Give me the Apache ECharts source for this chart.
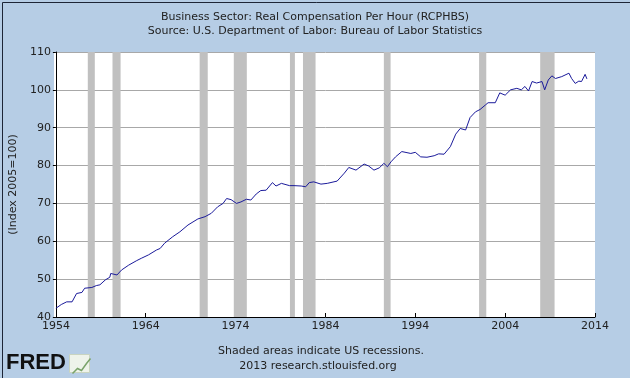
<!DOCTYPE html>
<html>
<head>
<meta charset="utf-8">
<title>RCPHBS</title>
<script src="https://cdn.jsdelivr.net/npm/echarts@6/dist/echarts.min.js"></script>
<style>
  html, body { margin: 0; padding: 0; }
  #chart { width: 630px; height: 378px; }
</style>
</head>
<body>
<div id="chart"></div>
<script>
// quarterly-ish readings (decimal year) off the picture
var years = [1954.0,1954.6,1955.2,1955.8,1956.3,1956.9,1957.2,1958.0,1958.5,1958.9,1959.5,1960.0,1960.1,1960.8,1961.0,1961.3,1962.1,1963.0,1963.5,1964.3,1965.2,1965.6,1966.1,1967.0,1967.8,1968.7,1969.8,1970.6,1971.3,1972.0,1972.6,1973.0,1973.5,1974.1,1974.6,1975.2,1975.7,1976.3,1976.8,1977.4,1978.1,1978.5,1979.1,1980.0,1980.5,1981.3,1981.8,1982.2,1982.7,1983.5,1984.2,1985.3,1986.1,1986.6,1987.4,1988.3,1988.8,1989.4,1990.0,1990.5,1990.9,1991.3,1991.8,1992.5,1993.5,1994.0,1994.6,1995.3,1996.1,1996.6,1997.2,1997.9,1998.5,1999.0,1999.6,2000.1,2000.7,2001.2,2001.8,2002.1,2002.9,2003.4,2004.0,2004.6,2005.3,2005.8,2006.2,2006.6,2007.0,2007.5,2008.1,2008.4,2008.8,2009.2,2009.6,2010.3,2011.1,2011.4,2011.8,2012.2,2012.5,2012.9,2013.1];
var values = [42.3,43.3,44.0,44.0,46.2,46.5,47.6,47.8,48.3,48.5,49.8,50.5,51.5,51.1,51.0,52.4,53.7,54.9,55.5,56.4,57.7,58.1,59.5,61.2,62.5,64.3,65.9,66.5,67.4,69.1,70.0,71.3,71.0,70.0,70.4,71.1,70.9,72.5,73.4,73.5,75.5,74.6,75.3,74.7,74.7,74.6,74.4,75.5,75.7,75.1,75.3,75.9,78.0,79.5,78.8,80.4,79.9,78.8,79.4,80.6,79.7,81.0,82.3,83.7,83.2,83.5,82.3,82.2,82.6,83.1,83.0,85.0,88.3,89.8,89.4,92.7,94.2,94.8,96.0,96.6,96.6,99.2,98.6,100.0,100.4,100.0,100.9,99.7,102.2,101.8,102.2,100.0,102.6,103.7,103.0,103.5,104.4,103.0,101.7,102.3,102.2,104.1,102.9];

// recession shading
var recStart = [1957.55,1960.3,1970.0,1973.8,1980.05,1981.5,1990.5,2001.1,2007.9];
var recEnd   = [1958.33,1961.2,1970.9,1975.25,1980.6,1982.9,1991.25,2001.9,2009.5];

var xTicks = [1954, 1964, 1974, 1984, 1994, 2004, 2014];

var seriesData = years.map(function (y, i) { return [y, values[i]]; });
var recAreas = recStart.map(function (s, i) { return [{xAxis: s}, {xAxis: recEnd[i]}]; });

var myChart = echarts.init(document.getElementById('chart'), null, {renderer: 'canvas'});

var font = 'DejaVu Sans';

var option = {
    backgroundColor: '#b6cde5',
    animation: false,
    title: {
        text: 'Business Sector: Real Compensation Per Hour (RCPHBS)\nSource: U.S. Department of Labor: Bureau of Labor Statistics',
        left: 'center',
        top: 5,
        textStyle: {fontFamily: font, fontSize: 11, fontWeight: 'normal', color: '#222', lineHeight: 14}
    },
    grid: {left: 54, right: 35, top: 52, bottom: 61},
    xAxis: {
        type: 'value',
        min: 1954,
        max: 2014,
        interval: 10,
        axisLine: {lineStyle: {color: '#000', width: 1}},
        axisTick: {inside: true, length: 4, lineStyle: {color: '#000'}},
        axisLabel: {fontFamily: font, fontSize: 11, color: '#222', margin: 4,
            formatter: function (v) { return xTicks.indexOf(v) >= 0 ? String(v) : ''; }},
        splitLine: {show: false}
    },
    yAxis: {
        type: 'value',
        min: 40,
        max: 110,
        interval: 10,
        name: '(Index 2005=100)',
        nameLocation: 'middle',
        nameGap: 34,
        nameTextStyle: {fontFamily: font, fontSize: 11, color: '#222'},
        axisLine: {show: true, lineStyle: {color: '#000', width: 1}},
        axisTick: {show: true, length: 3, lineStyle: {color: '#000'}},
        axisLabel: {fontFamily: font, fontSize: 11, color: '#222', margin: 5},
        splitLine: {lineStyle: {color: '#a8a8a8', width: 1}}
    },
    series: [{
        type: 'line',
        data: seriesData,
        showSymbol: false,
        lineStyle: {color: '#1a1a9a', width: 1},
        z: 3,
        markArea: {
            silent: true,
            itemStyle: {color: '#c0c0c0'},
            data: recAreas
        }
    }],
    graphic: [
        {type: 'rect', left: 54, top: 52, shape: {width: 541, height: 265}, style: {fill: '#fff'}, z: -10, silent: true},
        {type: 'text', x: 321, y: 346,
            style: {text: 'Shaded areas indicate US recessions.', font: '11px "DejaVu Sans"', fill: '#222', align: 'center'}},
        {type: 'text', x: 318, y: 361,
            style: {text: '2013 research.stlouisfed.org', font: '11px "DejaVu Sans"', fill: '#222', align: 'center'}},
        {type: 'text', left: 6, top: 352,
            style: {text: 'FRED', font: 'bold 22px "Liberation Sans"', fill: '#111'}},
        {type: 'rect', left: 69, top: 354, shape: {width: 20, height: 18}, style: {fill: '#eef3ea', stroke: '#c9d4c0'}},
        {type: 'polyline', left: 70, top: 356, shape: {points: [[0, 15], [5, 10], [9, 12], [14, 5], [18, 0]]}, style: {stroke: '#7aa36a', lineWidth: 1.5, fill: null}},
        {type: 'rect', left: 0, top: 0, shape: {width: 629, height: 377}, style: {fill: null, stroke: '#1d2536', lineWidth: 1}, silent: true}
    ]
};

option && myChart.setOption(option);
</script>
</body>
</html>
